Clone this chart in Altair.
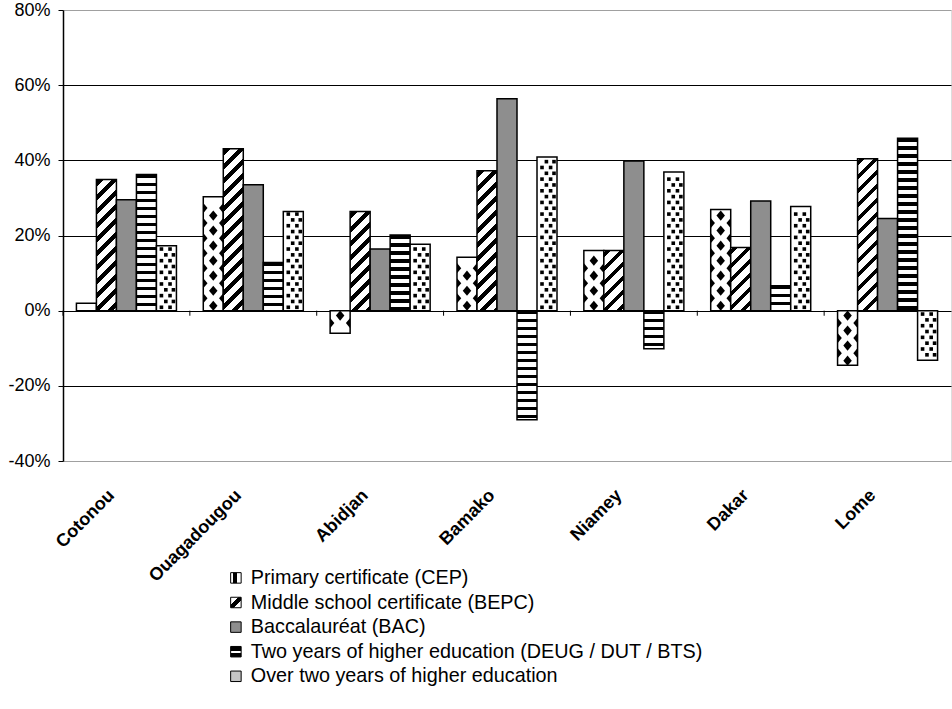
import math
import altair as alt

# ---------------- data ----------------
cities = ["Cotonou", "Ouagadougou", "Abidjan", "Bamako", "Niamey", "Dakar", "Lome"]
series = [
    "Primary certificate (CEP)",
    "Middle school certificate (BEPC)",
    "Baccalauréat (BAC)",
    "Two years of higher education (DEUG / DUT / BTS)",
    "Over two years of higher education",
]
cep = [2, 30.3, -6, 14.2, 16, 26.9, -14.5]
bepc = [34.9, 43.1, 26.4, 37.2, 16, 16.8, 40.4]
bac = [29.5, 33.5, 16.4, 56.4, 39.8, 29.2, 24.5]
deug = [36.2, 12.8, 20.1, -29, -10.1, 6.6, 45.9]
over = [17.3, 26.4, 17.7, 40.9, 36.9, 27.7, -13.2]
y_ticks = [-0.4, -0.2, 0, 0.2, 0.4, 0.6, 0.8]

values = [cep, bepc, bac, deug, over]

# ---------------- geometry (plot area) ----------------
W_PX, H_PX = 888, 451
PX_PER_PCT = H_PX / 120.0
GROUP = W_PX / len(cities)
OUTER = 0.671
BW = GROUP / (5 + 2 * OUTER)


def band_stops(length, period, black, start=0.0):
    stops = [{"offset": 0, "color": "white"}]
    k = 0
    while True:
        b0 = start + k * period
        if b0 >= length:
            break
        b1 = min(b0 + black, length)
        o0, o1 = b0 / length, b1 / length
        stops += [
            {"offset": o0, "color": "white"},
            {"offset": o0, "color": "black"},
            {"offset": o1, "color": "black"},
            {"offset": o1, "color": "white"},
        ]
        k += 1
    stops.append({"offset": 1, "color": "white"})
    return stops


def diag_fill(v):
    h = max(abs(v) * PX_PER_PCT, 1.0)
    w = BW
    a = h * (w + h) / (w * w + h * h)
    return {"gradient": "linear", "x1": 0, "y1": 0, "x2": a * w / h, "y2": a,
            "stops": band_stops(w + h, 14.0, 5.5, 2.0)}


def horiz_fill(v):
    h = max(abs(v) * PX_PER_PCT, 1.0)
    return {"gradient": "linear", "x1": 0, "y1": 0, "x2": 0, "y2": 1,
            "stops": band_stops(h, 8.0, 3.5, 0.0)}


bar_rows = []
for j, s in enumerate(series):
    for i, c in enumerate(cities):
        v = values[j][i]
        if j == 1:
            fill = diag_fill(v)
        elif j == 3:
            fill = horiz_fill(v)
        elif j == 2:
            fill = "#8e8e8e"
        else:
            fill = "white"
        bar_rows.append({"city": c, "series": s, "v": v / 100.0, "fill": fill})

# pattern glyphs (derived from the values)
diamonds, left_half, right_half, dots = [], [], [], []
for i, c in enumerate(cities):
    v = cep[i]
    sgn = 1 if v >= 0 else -1
    k = 0
    while 1.3 + 4.0 * k + 1.2 <= abs(v):
        diamonds.append({"city": c, "pos": 0.5, "v": sgn * (1.3 + 4.0 * k) / 100.0})
        k += 1
    k = 0
    while 3.3 + 4.0 * k + 1.2 <= abs(v):
        yy = sgn * (3.3 + 4.0 * k) / 100.0
        left_half.append({"city": c, "pos": 0.0, "v": yy})
        right_half.append({"city": c, "pos": 1.0, "v": yy})
        k += 1
    v = over[i]
    sgn = 1 if v >= 0 else -1
    k = 0
    while 0.9 + 1.55 * k + 0.6 <= abs(v):
        yy = sgn * (0.9 + 1.55 * k) / 100.0
        cols = (0.25, 0.68) if k % 2 == 0 else (0.47, 0.85)
        for cc in cols:
            dots.append({"city": c, "pos": 4 + cc, "v": yy})
        k += 1

# ---------------- scales & axes ----------------
x_scale = alt.Scale(paddingInner=0, paddingOuter=0)
x_axis = alt.Axis(title=None, labelAngle=-45, labelFontWeight="bold", labelFontSize=18,
                  labelFont="Liberation Sans", labelColor="black", domain=False,
                  ticks=False, grid=False, labelPadding=25, labelOffset=-21)
y_scale = alt.Scale(domain=[-0.4, 0.8], nice=False, zero=False)
y_axis = alt.Axis(
    title=None, values=y_ticks,
    labelExpr="replace(format(datum.value, '.0%'), '\u2212', '-')",
    labelFontSize=18,
    labelFont="Liberation Sans", labelColor="black", tickColor="black",
    tickSize=5, labelPadding=8, domainColor="black", domainWidth=1.5,
    minExtent=58,
    gridColor={"condition": {"test": "datum.value >= 0.79 || datum.value <= -0.39",
                             "value": "#a0a0a0"}, "value": "black"},
    gridWidth=1,
)
x_enc = alt.X("city:N", sort=cities, scale=x_scale, axis=x_axis)
y_enc = alt.Y("v:Q", scale=y_scale, axis=y_axis)

bars = alt.Chart(alt.Data(values=bar_rows)).mark_bar(
    stroke="black", strokeWidth=1.5
).encode(
    x=x_enc,
    y=y_enc,
    xOffset=alt.XOffset("series:N", sort=series,
                        scale=alt.Scale(domain=series, paddingInner=0, paddingOuter=OUTER)),
    fill=alt.Fill("fill:N", scale=None, legend=None),
)

off_scale = alt.Scale(domain=[-OUTER, 5 + OUTER], nice=False, zero=False)


def glyph_layer(rows, shape, size):
    return alt.Chart(alt.Data(values=rows)).mark_point(
        shape=shape, size=size, filled=True, color="black", opacity=1, strokeWidth=0
    ).encode(
        x=x_enc, y=y_enc,
        xOffset=alt.XOffset("pos:Q", scale=off_scale),
    )


diam_layer = glyph_layer(diamonds, "M-1,0L0,-1.2L1,0L0,1.2Z", 72)
lh_layer = glyph_layer(left_half, "M0,-1.2L1,0L0,1.2Z", 72)
rh_layer = glyph_layer(right_half, "M0,-1.2L-1,0L0,1.2Z", 72)
dot_layer = glyph_layer(dots, "square", 13)

ticks = alt.Chart(alt.Data(values=[{"city": c} for c in cities])).mark_rule(
    color="black", strokeWidth=1
).encode(
    x=alt.X("city:N", sort=cities, bandPosition=0, scale=x_scale, axis=x_axis),
    y=alt.Y(datum=0, scale=y_scale, axis=y_axis),
    y2=alt.Y2(datum=-0.0135),
)

# legend swatches: small pattern fills
sw_bepc = alt.param(name="sw_bepc", value={
    "gradient": "linear", "x1": 0, "y1": 0, "x2": 1, "y2": 1,
    "stops": [{"offset": 0, "color": "white"}, {"offset": 0.36, "color": "white"},
              {"offset": 0.36, "color": "black"}, {"offset": 0.64, "color": "black"},
              {"offset": 0.64, "color": "white"}, {"offset": 1, "color": "white"}]})
sw_deug = alt.param(name="sw_deug", value={
    "gradient": "linear", "x1": 0, "y1": 0, "x2": 0, "y2": 1,
    "stops": [{"offset": 0, "color": "black"}, {"offset": 0.4, "color": "black"},
              {"offset": 0.4, "color": "white"}, {"offset": 0.6, "color": "white"},
              {"offset": 0.6, "color": "black"}, {"offset": 1, "color": "black"}]})
sw_cep = alt.param(name="sw_cep", value={
    "gradient": "linear", "x1": 0, "y1": 0, "x2": 1, "y2": 0,
    "stops": [{"offset": 0, "color": "white"}, {"offset": 0.2, "color": "white"},
              {"offset": 0.2, "color": "black"}, {"offset": 0.6, "color": "black"},
              {"offset": 0.6, "color": "white"}, {"offset": 1, "color": "white"}]})

sym_expr = (
    f"datum.value === '{series[0]}' ? sw_cep : "
    f"datum.value === '{series[1]}' ? sw_bepc : "
    f"datum.value === '{series[2]}' ? '#8e8e8e' : "
    f"datum.value === '{series[3]}' ? sw_deug : '#c4c4c4'"
)

legend_layer = alt.Chart(alt.Data(values=[{"series": s} for s in series])).mark_square(
    opacity=1, filled=True, fill={"expr": sym_expr}
).encode(
    stroke=alt.Stroke(
        "series:N", sort=series,
        scale=alt.Scale(domain=series, range=["black"] * len(series)),
        legend=alt.Legend(
            orient="none", legendX=163, legendY=558, title=None,
            labelFontSize=19.8, labelFont="Liberation Sans", labelColor="black",
            symbolType="square", symbolSize=110,
            symbolFillColor={"expr": sym_expr},
            symbolStrokeWidth=1, symbolOpacity=1, rowPadding=3.6, labelOffset=5,
            labelLimit=0, direction="vertical",
        ),
    )
).transform_filter("false")

chart = alt.layer(
    bars, diam_layer, lh_layer, rh_layer, dot_layer, ticks, legend_layer
).add_params(
    sw_bepc, sw_deug, sw_cep
).resolve_scale(
    xOffset="independent"
).properties(
    width=W_PX, height=H_PX,
    padding={"left": 5, "top": 1, "right": 1, "bottom": 5},
).configure_view(
    stroke="#a0a0a0", strokeWidth=1.5
).configure(
    background="white"
)

chart.save("out.html", embed_options={"renderer": "svg", "actions": False})
